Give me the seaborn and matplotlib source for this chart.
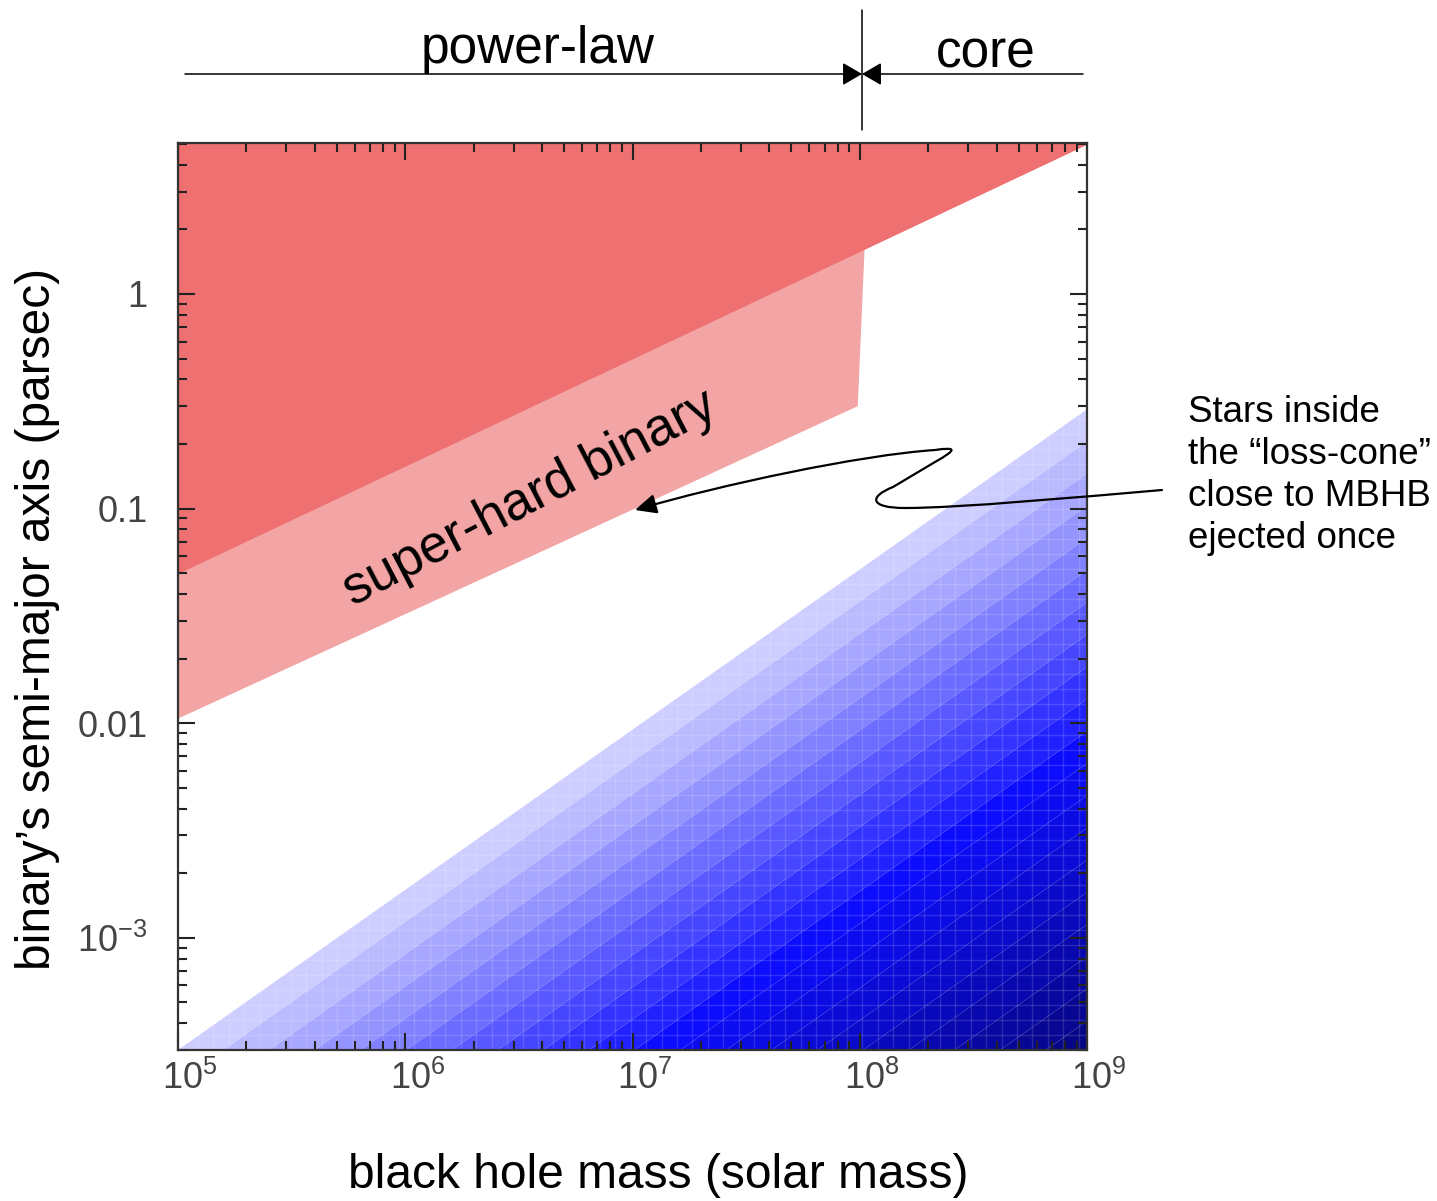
import numpy as np
import matplotlib
matplotlib.use("Agg")
import matplotlib.pyplot as plt
import matplotlib.transforms as mtransforms
import seaborn as sns
from matplotlib.colors import LinearSegmentedColormap
from matplotlib.patches import Polygon, FancyArrowPatch, ArrowStyle
from matplotlib.path import Path
from matplotlib.ticker import FixedLocator, FixedFormatter, LogLocator, NullFormatter

# ---------------- data ----------------
x_ticks = [1e5, 1e6, 1e7, 1e8, 1e9]
x_tick_labels = [r"$10^{5}$", r"$10^{6}$", r"$10^{7}$", r"$10^{8}$", r"$10^{9}$"]
y_ticks = [1e-3, 1e-2, 0.1, 1.0]
y_tick_labels = [r"$10^{-3}$", "0.01", "0.1", "1"]
x_limits = [1e5, 1e9]
y_limits = [3.0e-4, 5.05]

# lower edge of the dark-red (upper) region
red_edge_mass = [1e5, 1e9]
red_edge_a = [0.05, 5.0]
# super-hard binary band (polygon)
pink_mass = [1e5, 9.8e7, 1.05e8, 1e5]
pink_a = [0.0105, 0.30, 1.62, 0.05]
# upper edge of the loss-cone (blue) region
blue_edge_mass = [1e5, 1e9]
blue_edge_a = [3.0e-4, 0.29]
blue_band_step = 0.15   # decades per shading band

label_x = "black hole mass (solar mass)"
label_y = "binary\u2019s semi-major axis (parsec)"
region_labels = ["power-law", "core"]
band_label = "super-hard binary"
note_lines = ["Stars inside", "the \u201closs-cone\u201d", "close to MBHB", "ejected once"]

# ---------------- style ----------------
W, H = 1437, 1201
sns.set_theme(style="ticks")
plt.rcParams["font.family"] = ["Liberation Sans", "DejaVu Sans"]
plt.rcParams["mathtext.fontset"] = "custom"
plt.rcParams["mathtext.rm"] = "Liberation Sans"
plt.rcParams["mathtext.it"] = "Liberation Sans:italic"
plt.rcParams["text.color"] = "black"
plt.rcParams["axes.axisbelow"] = False

RED = "#EE7070"
PINK = "#F3A4A4"
TICKC = "#444444"

fig = plt.figure(figsize=(W / 100, H / 100), dpi=100, facecolor="white")
ax = fig.add_axes([178 / W, 1 - 1050 / H, (1087 - 178) / W, (1050 - 143) / H])
ax.set_xscale("log")
ax.set_yscale("log")
ax.set_xlim(*x_limits)
ax.set_ylim(*y_limits)
ax.set_facecolor("white")
ax.set_axisbelow(False)

# blue loss-cone shading: bands parallel to its edge
lx = np.linspace(np.log10(x_limits[0]), np.log10(x_limits[1]), 700)
ly = np.linspace(np.log10(y_limits[0]) - 0.05, np.log10(y_limits[1]), 700)
LX, LY = np.meshgrid(lx, ly)
slope = (np.log10(blue_edge_a[1]) - np.log10(blue_edge_a[0])) / (
    np.log10(blue_edge_mass[1]) - np.log10(blue_edge_mass[0]))
edge = np.log10(blue_edge_a[0]) + slope * (LX - np.log10(blue_edge_mass[0]))
D = edge - LY
levels = np.arange(0, D.max() + blue_band_step, blue_band_step)
cmap = LinearSegmentedColormap.from_list(
    "losscone", [(0.0, (0.84, 0.84, 1.0)), (0.5, (0.05, 0.05, 1.0)), (1.0, (0.02, 0.02, 0.45))])
ax.contourf(10 ** LX, 10 ** LY, D, levels=levels, cmap=cmap, antialiased=True, zorder=1)

# faint grid texture clipped to blue region
tri = Polygon([(blue_edge_mass[0], blue_edge_a[0] * 0.5), (blue_edge_mass[0], blue_edge_a[0]),
               (blue_edge_mass[1], blue_edge_a[1]), (blue_edge_mass[1], blue_edge_a[0] * 0.5)],
              closed=True, transform=ax.transData, fc="none", ec="none")
ax.add_patch(tri)
gx = 10 ** np.arange(5.02, 9.0, 0.068)
gy = 10 ** np.arange(np.log10(y_limits[0]), 0, 0.07)
vl = ax.vlines(gx, 1e-4, 1, colors="white", alpha=0.14, lw=1, zorder=1.2)
hl = ax.hlines(gy, 1e5, 1e9, colors="white", alpha=0.14, lw=1, zorder=1.2)
vl.set_clip_path(tri)
hl.set_clip_path(tri)

# super-hard binary band
ax.fill(pink_mass, pink_a, color=PINK, lw=0, zorder=1)
# dark red region
ax.fill_between(red_edge_mass, red_edge_a, [10, 10], color=RED, lw=0, zorder=1)
sns.lineplot(x=red_edge_mass, y=red_edge_a, color=RED, lw=1, ax=ax, zorder=1)

# ticks
ax.xaxis.set_major_locator(FixedLocator(x_ticks))
ax.xaxis.set_major_formatter(FixedFormatter(x_tick_labels))
ax.yaxis.set_major_locator(FixedLocator(y_ticks))
ax.yaxis.set_major_formatter(FixedFormatter(y_tick_labels))
ax.xaxis.set_minor_locator(LogLocator(base=10, subs=np.arange(2, 10)))
ax.yaxis.set_minor_locator(LogLocator(base=10, subs=np.arange(2, 10)))
ax.xaxis.set_minor_formatter(NullFormatter())
ax.yaxis.set_minor_formatter(NullFormatter())
ax.tick_params(which="both", direction="in", top=True, right=True, color="#222222",
               width=1.5, labelcolor=TICKC, labelsize=26)
ax.tick_params(which="major", length=12)
ax.tick_params(which="minor", length=6.5)
ax.tick_params(axis="x", which="major", pad=8)
ax.tick_params(axis="y", which="major", pad=22)
for s in ax.spines.values():
    s.set_color("#333333")
    s.set_linewidth(1.6)
    s.set_zorder(5)
offset = mtransforms.ScaledTranslation(12 / 100, 0, fig.dpi_scale_trans)
for lbl in ax.get_xticklabels():
    lbl.set_transform(lbl.get_transform() + offset)

# ---------------- annotations in pixel coordinates ----------------
pxT = mtransforms.Affine2D().scale(1, -1).translate(0, H)

fig.text(658, 1175, label_x, transform=pxT, ha="center", va="center", fontsize=34.5, color="black")
fig.text(38, 619, label_y, transform=pxT, ha="center", va="center", rotation=90,
         fontsize=34.5, color="black")

fig.text(538, 63, region_labels[0], transform=pxT, ha="center", va="baseline", fontsize=37, color="black")
fig.text(986, 68, region_labels[1], transform=pxT, ha="center", va="baseline", fontsize=37, color="black")

head = ArrowStyle("-|>", head_length=12, head_width=7)
for x0 in (185, 1083):
    fig.add_artist(FancyArrowPatch((x0, 74), (862, 74), transform=pxT, arrowstyle=head,
                                   mutation_scale=1, shrinkA=0, shrinkB=0, color="black", lw=1.1))
fig.add_artist(plt.Line2D([862, 862], [10, 130], transform=pxT, color="black", lw=1.1))

fig.text(530, 498, band_label, transform=pxT, ha="center", va="center", rotation=27.5,
         rotation_mode="anchor", fontsize=38, color="black")

for i, line in enumerate(note_lines):
    fig.text(1188, 422 + 42 * i, line, transform=pxT, ha="left", va="baseline",
             fontsize=26.5, color="black")

verts = [(1162, 490),
         (1080, 497), (960, 508), (905, 508),
         (870, 508), (868, 497), (893, 487),
         (935, 462),
         (958, 449), (956, 447), (935, 450),
         (860, 455), (720, 485), (635, 510)]
codes = [Path.MOVETO,
         Path.CURVE4, Path.CURVE4, Path.CURVE4,
         Path.CURVE4, Path.CURVE4, Path.CURVE4,
         Path.LINETO,
         Path.CURVE4, Path.CURVE4, Path.CURVE4,
         Path.CURVE4, Path.CURVE4, Path.CURVE4]
squiggle = FancyArrowPatch(path=Path(verts, codes), transform=pxT,
                           arrowstyle=ArrowStyle("-|>", head_length=13, head_width=6),
                           mutation_scale=1, color="black", lw=1.6)
fig.add_artist(squiggle)

fig.savefig("out.png", dpi=100, facecolor="white")
